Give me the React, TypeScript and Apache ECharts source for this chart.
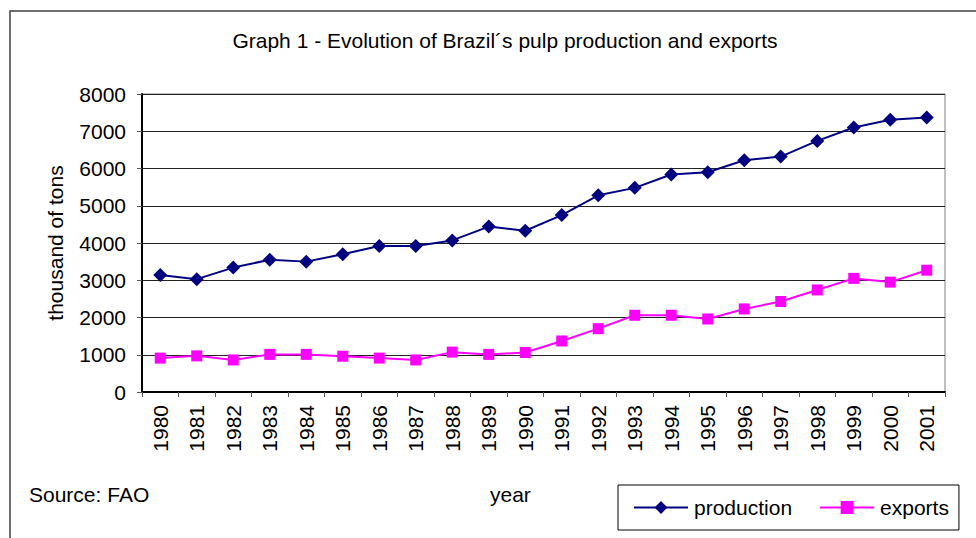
import React, { useEffect, useRef } from "react";
import * as echarts from "echarts";

const years = ["1980","1981","1982","1983","1984","1985","1986","1987","1988","1989","1990","1991","1992","1993","1994","1995","1996","1997","1998","1999","2000","2001"];
const production = [3140,3030,3340,3550,3500,3700,3920,3920,4070,4440,4330,4750,5280,5480,5840,5900,6220,6320,6740,7100,7310,7370];
const exportsData = [910,970,860,1010,1010,960,910,860,1070,1010,1060,1370,1700,2060,2060,1960,2230,2430,2740,3050,2950,3270];

const FONT = "Liberation Sans, Arial, sans-serif";
const FS = 21;

export default function App() {
  const ref = useRef<HTMLDivElement>(null);
  useEffect(() => {
    if (!ref.current) return;
    const chart = echarts.init(ref.current, null, { renderer: "svg" });
    chart.setOption({
      animation: false,
      backgroundColor: "#ffffff",
      textStyle: { fontFamily: FONT },
      title: {
        text: "Graph 1 - Evolution of Brazil\u00b4s pulp production and exports",
        left: 500,
        textAlign: "center",
        top: 25,
        textStyle: { fontSize: FS, fontWeight: "normal", color: "#000", fontFamily: FONT },
      },
      grid: { left: 142, top: 94, right: 31, bottom: 146, show: true, borderColor: "#808080", borderWidth: 1 },
      legend: {
        left: 618,
        top: 485,
        padding: [12, 10, 12, 15],
        itemWidth: 54,
        itemHeight: 16,
        itemGap: 27,
        borderColor: "#000",
        borderWidth: 1,
        textStyle: { fontSize: FS, color: "#000", fontFamily: FONT, padding: [0, 0, 0, 1] },
        data: ["production", "exports"],
      },
      xAxis: {
        type: "category",
        data: years,
        boundaryGap: true,
        axisLine: { lineStyle: { color: "#000", width: 2 } },
        axisTick: { show: true, interval: 0, length: 5, lineStyle: { color: "#555", width: 1 } },
        axisLabel: { interval: 0, rotate: 90, margin: 13, fontSize: FS, color: "#000", fontFamily: FONT },
        splitLine: { show: false },
      },
      yAxis: {
        type: "value",
        min: 0,
        max: 8000,
        interval: 1000,
        name: "thousand of tons",
        nameLocation: "middle",
        nameRotate: 90,
        nameGap: 76,
        nameTextStyle: { fontSize: FS, color: "#000", fontFamily: FONT },
        axisLine: { show: true, lineStyle: { color: "#000", width: 2 } },
        axisTick: { show: true, length: 5, lineStyle: { color: "#555", width: 1 } },
        axisLabel: { margin: 16, fontSize: FS, color: "#000", fontFamily: FONT, formatter: (v: number) => String(v) },
        splitLine: { show: true, lineStyle: { color: "#222", width: 1 } },
      },
      series: [
        {
          name: "production",
          type: "line",
          data: production,
          symbol: "diamond",
          symbolSize: 14,
          itemStyle: { color: "#000080" },
          lineStyle: { color: "#000080", width: 2 },
        },
        {
          name: "exports",
          type: "line",
          data: exportsData,
          symbol: "rect",
          symbolSize: 11,
          itemStyle: { color: "#ff00ff" },
          lineStyle: { color: "#ff00ff", width: 2 },
        },
      ],
      graphic: [
        {
          type: "rect",
          shape: { x: 10, y: 11, width: 1000, height: 600 },
          style: { fill: "none", stroke: "#404040", lineWidth: 1.5 },
          silent: true,
        },
        {
          type: "text",
          left: 29,
          top: 484,
          style: { text: "Source: FAO", fontSize: FS, fill: "#000", fontFamily: FONT },
        },
        {
          type: "text",
          left: 490,
          top: 484,
          style: { text: "year", fontSize: FS, fill: "#000", fontFamily: FONT },
        },
      ],
    });
    return () => chart.dispose();
  }, []);
  return <div ref={ref} style={{ position: "absolute", left: 0, top: 0, width: 976, height: 538 }} />;
}
